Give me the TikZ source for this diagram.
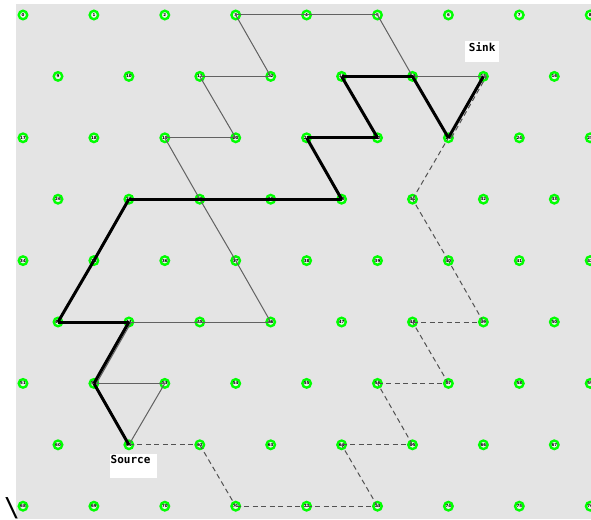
\documentclass[tikz,border=0pt]{standalone}
\usepackage{fontspec}
\newfontfamily\boxfont{DejaVu Sans Mono}
\newfontfamily\numfont{DejaVu Sans}
\usetikzlibrary{calc, arrows.meta, positioning}
\definecolor{panelgray}{RGB}{228,228,228}
\definecolor{nodegreen}{RGB}{0,255,0}

\begin{document}
\begin{tikzpicture}[x=1pt, y=-1pt, every node/.style={font=\numfont\bfseries\fontsize{4}{4}\selectfont},
    vertex/.style={circle, draw=nodegreen, line width=2.4pt, fill=panelgray!60!white, minimum size=8.5pt, inner sep=0pt},
    thinedge/.style={black!62, line width=1pt},
    thickedge/.style={black, line width=3pt},
    dashedge/.style={black!68, line width=1pt, dash pattern=on 5pt off 3.5pt},
    labelbox/.style={fill=white, inner sep=0pt, anchor=north west, font=\boxfont\bfseries\fontsize{11}{11}\selectfont}]
    \useasboundingbox (0,0) rectangle (591,519);
    \fill[panelgray] (16,4) rectangle (591,519);
    % grid of vertices, even rows then odd rows
    \foreach \k in {0,...,4}{
        \foreach \c in {0,...,8}{
            \pgfmathtruncatemacro{\idx}{17*\k+\c}
            \node[vertex] (v\idx) at ({23+70.9*\c},{15+122.8*\k}) {\idx};
        }
    }
    \foreach \k in {0,...,3}{
        \foreach \c in {0,...,7}{
            \pgfmathtruncatemacro{\idx}{17*\k+9+\c}
            \node[vertex] (v\idx) at ({58+70.9*\c},{76.4+122.8*\k}) {\idx};
        }
    }
    % the three paths from source to sink
    \foreach \a/\b in {61/53,53/52,45/46,44/45,46/37,37/28,28/19,19/20,20/11,11/12,12/3,3/4,4/5,5/14,14/15}{
        \draw[thinedge] (v\a.center) -- (v\b.center);
    }
    \draw[thinedge, transform canvas={xshift=2.5pt}] (v52.center) -- (v44.center);
    \foreach \a/\b in {61/62,62/71,71/72,72/73,73/64,64/65,65/56,56/57,57/48,48/49,49/40,40/31,31/23}{
        \draw[dashedge] (v\a.center) -- (v\b.center);
    }
    \draw[dashedge, transform canvas={xshift=3pt}] (v23.center) -- (v15.center);
    \foreach \a/\b in {61/52,52/44,44/43,43/35,35/27,27/28,28/29,29/30,30/21,21/22,22/13,13/14,14/23,23/15}{
        \draw[thickedge] (v\a.center) -- (v\b.center);
    }
    \node[labelbox, minimum width=34pt, text height=10pt, text depth=11pt] (sink) at (465,41) {Sink};
    \node[labelbox, text width=46pt, inner xsep=0.5pt, text height=9pt, text depth=15pt] (source) at (110,454) {Source};
    \node[font=\boxfont\fontsize{26}{26}\selectfont, inner sep=0pt] (slash) at (12,508) {\textbackslash};
\end{tikzpicture}
\end{document}
